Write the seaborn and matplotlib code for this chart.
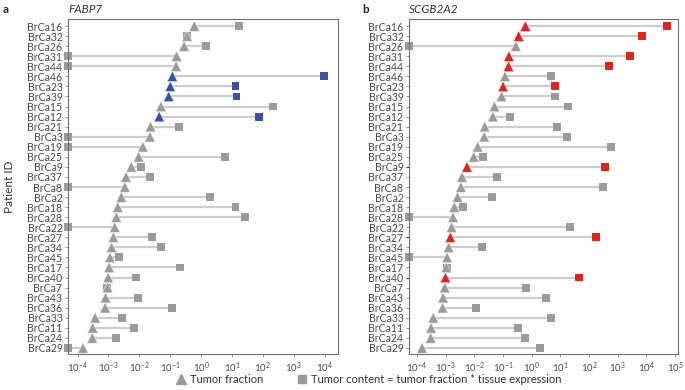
import numpy as np
import pandas as pd
import seaborn as sns
import matplotlib.pyplot as plt
from matplotlib.lines import Line2D
from matplotlib.ticker import NullLocator

# patients, ordered by tumor fraction (top to bottom)
patients = ["BrCa16", "BrCa32", "BrCa26", "BrCa31", "BrCa44", "BrCa46", "BrCa23", "BrCa39",
            "BrCa15", "BrCa12", "BrCa21", "BrCa3", "BrCa19", "BrCa25", "BrCa9", "BrCa37",
            "BrCa8", "BrCa2", "BrCa18", "BrCa28", "BrCa22", "BrCa27", "BrCa34", "BrCa45",
            "BrCa17", "BrCa40", "BrCa7", "BrCa43", "BrCa36", "BrCa33", "BrCa11", "BrCa24", "BrCa29"]

tumor_fraction = [0.60, 0.35, 0.28, 0.16, 0.155, 0.117, 0.100, 0.089,
                  0.050, 0.044, 0.023, 0.022, 0.013, 0.0095, 0.0055, 0.0037,
                  0.0034, 0.0026, 0.0020, 0.0018, 0.0016, 0.00145, 0.00126, 0.00112,
                  0.00105, 0.00098, 0.00093, 0.00081, 0.00078, 0.00037, 0.00031, 0.00030, 0.00015]

# tumor content = tumor fraction * tissue expression (0 = not detected)
fabp7_content = [17, 0.34, 1.4, 0, 0, 9500, 13, 14,
                 210, 74, 0.19, 0, 0, 6.0, 0.011, 0.022,
                 0, 1.95, 13, 26, 0, 0.026, 0.050, 0.0022,
                 0.21, 0.0078, 0.00091, 0.0089, 0.115, 0.0028, 0.0069, 0.0017, 0]

scgb2a2_content = [52000, 7200, 0, 2750, 500, 4.6, 6.6, 6.6,
                   18, 0.18, 7.4, 17, 600, 0.0195, 370, 0.063,
                   310, 0.040, 0.0041, 0, 21, 170, 0.018, 0,
                   0.0011, 43, 0.63, 3.1, 0.0115, 4.7, 0.33, 0.59, 1.95]

fabp7_hits = ["BrCa46", "BrCa23", "BrCa39", "BrCa12"]
scgb2a2_hits = ["BrCa16", "BrCa32", "BrCa31", "BrCa44", "BrCa23", "BrCa9", "BrCa27", "BrCa40"]

fabp7_long_ticks = ["BrCa31", "BrCa44", "BrCa3", "BrCa19"]
scgb2a2_long_ticks = ["BrCa9", "BrCa27", "BrCa40"]

GREY = "#9b9b9b"
LINE = "#cdcdcd"
TXT = "#4a4a4a"

sns.set_theme(style="white")
plt.rcParams['font.family'] = ['Liberation Sans Narrow', 'Lato', 'DejaVu Sans']

fig = plt.figure(figsize=(6.85, 3.9), dpi=100)
ax_a = fig.add_axes([68 / 685, 1 - 354 / 390, 270 / 685, 335 / 390])
ax_b = fig.add_axes([409 / 685, 1 - 354 / 390, 269 / 685, 335 / 390])


def panel(ax, content, hits, hit_color, xlim, decades, title, long_ticks):
    df = pd.DataFrame({"patient": patients, "row": np.arange(len(patients)),
                       "tf": tumor_fraction, "content": content})
    df["hit"] = df["patient"].isin(hits)
    df["content_plot"] = df["content"].where(df["content"] > 0, xlim[0])

    ax.set_xscale("log")
    ax.hlines(df["row"], df["tf"], df["content_plot"], color=LINE, lw=1.6, zorder=1)
    pal = {False: GREY, True: hit_color}
    sns.scatterplot(data=df, x="content_plot", y="row", hue="hit", palette=pal, marker="s",
                    s=32, linewidth=0, legend=False, ax=ax, zorder=2, clip_on=False)
    sns.scatterplot(data=df, x="tf", y="row", hue="hit", palette=pal, marker="^",
                    s=58, linewidth=0.4, edgecolor="#f2f2f2", legend=False, ax=ax,
                    zorder=3, clip_on=False)

    ax.set_xlim(*xlim)
    ax.set_ylim(len(patients) - 0.4, -0.7)
    ax.set_xticks([10.0 ** k for k in decades])
    ax.xaxis.set_minor_locator(NullLocator())
    ax.set_yticks(df["row"], df["patient"])
    ax.set_xlabel("")
    ax.set_ylabel("")
    ax.tick_params(axis="y", length=2.5, width=0.6, color="#888888", labelsize=7.6,
                   labelcolor=TXT, pad=1.5, left=True)
    ax.tick_params(axis="x", length=2.5, width=0.6, color="#888888", labelsize=7,
                   labelcolor=TXT, pad=2, bottom=True)
    for t, lab in zip(ax.yaxis.get_major_ticks(), df["patient"]):
        if lab in long_ticks:
            t._apply_params(length=11.5, color="#333333", width=0.8)
    for s in ax.spines.values():
        s.set_color("#707070")
        s.set_linewidth(0.8)
    ax.set_title(title, loc="left", fontstyle="italic", fontsize=8.5, color="#333333", pad=4)


panel(ax_a, fabp7_content, fabp7_hits, "#3a52a6", (10 ** -4.31, 10 ** 4.43),
      range(-4, 5), "FABP7", fabp7_long_ticks)
panel(ax_b, scgb2a2_content, scgb2a2_hits, "#e2231a", (10 ** -4.28, 10 ** 5.1),
      range(-4, 6), "SCGB2A2", scgb2a2_long_ticks)

ax_a.set_ylabel("Patient ID", fontsize=8.5, color="#333333")
ax_a.yaxis.set_label_coords(-0.195, 0.5)

fig.text(0.004, 0.99, "a", weight="bold", fontsize=8.5, va="top", color="#222222")
fig.text(0.529, 0.99, "b", weight="bold", fontsize=8.5, va="top", color="#222222")

handles = [Line2D([], [], marker="^", color=GREY, ls="", markersize=7.5),
           Line2D([], [], marker="s", color=GREY, ls="", markersize=6)]
fig.legend(handles, ["Tumor fraction", "Tumor content = tumor fraction * tissue expression"],
           loc="center", bbox_to_anchor=(0.537, 0.027), ncol=2, frameon=False,
           prop={"family": ["Lato", "DejaVu Sans"], "size": 8},
           columnspacing=2.9, handletextpad=0.2, handlelength=1.2, labelcolor="#333333")

fig.savefig("out.png", dpi=100)
